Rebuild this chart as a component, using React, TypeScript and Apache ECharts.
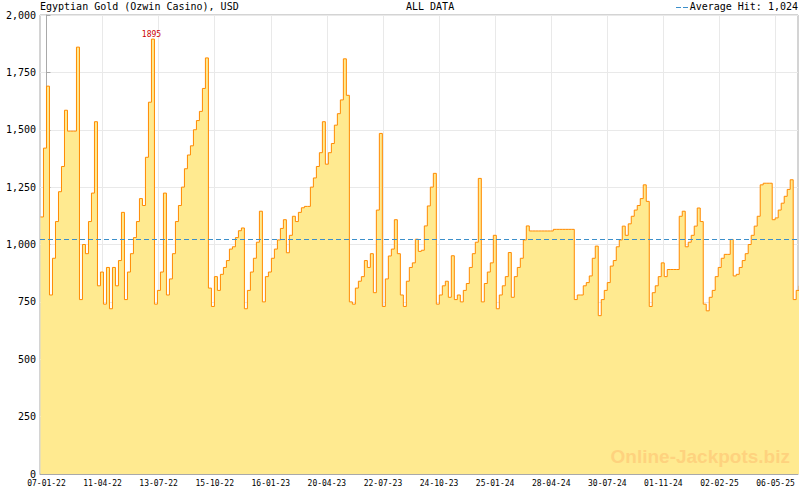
import React, { useEffect, useRef } from 'react';
import * as echarts from 'echarts';

const TITLE = 'Egyptian Gold (Ozwin Casino), USD';
const RANGE_LABEL = 'ALL DATA';
const WATERMARK = 'Online-Jackpots.biz';
const AVERAGE_HIT = 1024;

// x-axis tick labels (dd-mm-yy), one every TICK_DAYS days starting at day 0
const X_LABELS = [
  '07-01-22', '11-04-22', '13-07-22', '15-10-22', '16-01-23', '20-04-23', '22-07-23',
  '24-10-23', '25-01-24', '28-04-24', '30-07-24', '01-11-24', '02-02-25', '06-05-25',
];
const TICK_DAYS = 93.5;
const X_MIN = -10.8;
const X_MAX = 1253;

// y axis
const Y_MIN = 0;
const Y_MAX = 2000;
const Y_INTERVAL = 250;

// jackpot amount, sampled every STEP_DAYS days starting at START_DAY
const START_DAY = -10;
const STEP_DAYS = 5;
const VALUES = [
  1120, 1420, 1690, 780, 940, 1100, 1230, 1340, 1585, 1494,
  1494, 1494, 1860, 760, 1000, 960, 1100, 1224, 1535, 820,
  880, 740, 900, 720, 900, 820, 930, 1140, 760, 880,
  960, 1030, 1100, 1200, 1170, 1380, 1620, 1895, 740, 800,
  880, 1224, 780, 850, 960, 1100, 1170, 1250, 1330, 1390,
  1430, 1500, 1540, 1580, 1680, 1813, 810, 730, 860, 800,
  870, 900, 930, 980, 990, 1030, 1060, 1072, 720, 800,
  880, 940, 1010, 1145, 750, 860, 880, 940, 980, 1020,
  1070, 1108, 964, 1040, 1123, 1100, 1140, 1160, 1166, 1166,
  1250, 1290, 1340, 1400, 1535, 1350, 1400, 1440, 1520, 1570,
  1630, 1809, 1650, 750, 740, 810, 840, 860, 930, 900,
  960, 790, 1150, 1484, 730, 850, 950, 980, 1108, 960,
  780, 730, 840, 900, 920, 1023, 970, 975, 1081, 1168,
  1250, 1310, 740, 780, 820, 840, 770, 951, 760, 780,
  750, 800, 830, 900, 960, 1010, 1288, 750, 830, 880,
  920, 1040, 720, 780, 820, 860, 965, 770, 860, 900,
  940, 1020, 1081, 1059, 1059, 1059, 1059, 1059, 1059, 1059,
  1059, 1066, 1066, 1066, 1066, 1066, 1066, 1066, 760, 780,
  780, 820, 834, 863, 940, 993, 690, 760, 800, 834,
  906, 930, 990, 1020, 1080, 1040, 1090, 1123, 1150, 1170,
  1200, 1260, 1188, 730, 790, 820, 860, 920, 860, 891,
  891, 891, 891, 1123, 1145, 990, 1010, 1040, 1080, 1159,
  1100, 740, 711, 770, 800, 860, 900, 940, 957, 957,
  1022, 863, 870, 900, 930, 960, 1000, 1040, 1080, 1123,
  1260, 1267, 1267, 1267, 1108, 1116, 1150, 1180, 1210, 1240,
  1282, 760, 800, 820,
];

const MONO = '"DejaVu Sans Mono", monospace';

export default function App() {
  const ref = useRef<HTMLDivElement>(null);

  useEffect(() => {
    if (!ref.current) return;
    const chart = echarts.init(ref.current, undefined, { renderer: 'svg' });

    const majorTicks = X_LABELS.map((_, k) => k * TICK_DAYS);
    const minorTicks: number[] = [];
    for (let k = 0; k < X_LABELS.length; k++) {
      for (let j = 1; j < 7; j++) {
        const v = (k + j / 7) * TICK_DAYS;
        if (v <= X_MAX) minorTicks.push(v);
      }
    }

    const seriesData = VALUES.map((v, i) => [START_DAY + i * STEP_DAYS, v]);
    const gray = '#a9a9a9';
    const gridLine = '#e9e9e9';

    chart.setOption({
      animation: false,
      backgroundColor: '#ffffff',
      grid: {
        left: 40,
        right: 2,
        top: 15,
        bottom: 16,
        show: true,
        borderColor: gray,
        borderWidth: 1,
        backgroundColor: 'transparent',
      },
      xAxis: [
        {
          type: 'value',
          min: X_MIN,
          max: X_MAX,
          position: 'bottom',
          axisLine: { show: true, lineStyle: { color: gray, width: 1 } },
          axisTick: {
            show: true,
            inside: true,
            length: 5,
            customValues: majorTicks,
            lineStyle: { color: gray },
          },
          axisLabel: {
            show: true,
            customValues: majorTicks,
            formatter: (v: number) => X_LABELS[Math.round(v / TICK_DAYS)] ?? '',
            fontFamily: MONO,
            fontSize: 8,
            lineHeight: 8,
            color: '#000',
            margin: 5,
          },
          splitLine: { show: true, lineStyle: { color: gridLine, width: 1 } },
        },
        {
          type: 'value',
          min: X_MIN,
          max: X_MAX,
          position: 'bottom',
          axisLine: { show: false },
          axisTick: {
            show: true,
            inside: true,
            length: 3,
            customValues: minorTicks,
            lineStyle: { color: gray },
          },
          axisLabel: { show: false },
          splitLine: { show: false },
        },
      ],
      yAxis: {
        type: 'value',
        min: Y_MIN,
        max: Y_MAX,
        interval: Y_INTERVAL,
        axisLine: { show: true, lineStyle: { color: gray, width: 1 } },
        axisTick: { show: true, inside: true, length: 4, lineStyle: { color: gray } },
        axisLabel: {
          fontFamily: MONO,
          fontSize: 10,
          lineHeight: 8,
          color: '#000',
          margin: 4,
        },
        splitLine: { show: true, lineStyle: { color: gridLine, width: 1 } },
      },
      series: [
        {
          type: 'line',
          xAxisIndex: 0,
          data: seriesData,
          step: 'end',
          symbol: 'none',
          lineStyle: { color: '#ff8a00', width: 1 },
          areaStyle: { color: '#ffea90', opacity: 1 },
          markLine: {
            silent: true,
            symbol: 'none',
            label: { show: false },
            lineStyle: { color: '#3c8fca', type: [5, 3], width: 1 },
            data: [{ yAxis: AVERAGE_HIT }],
          },
          markPoint: {
            symbol: 'circle',
            symbolSize: 0,
            data: [{ type: 'max', valueDim: 'y' }],
            label: {
              show: true,
              position: 'top',
              distance: 1,
              formatter: (p: any) => String(p.value),
              fontFamily: MONO,
              fontSize: 8,
              color: '#cc0000',
            },
          },
        },
      ],
      graphic: [
        {
          type: 'text',
          left: 40,
          top: 1,
          style: { text: TITLE, font: `10px ${MONO}`, fill: '#000' },
        },
        {
          type: 'text',
          left: 406,
          top: 1,
          style: { text: RANGE_LABEL, font: `10px ${MONO}`, fill: '#000' },
        },
        {
          type: 'text',
          right: 2,
          top: 1,
          style: {
            text: 'Average Hit: ' + AVERAGE_HIT.toLocaleString('en-US'),
            font: `10px ${MONO}`,
            fill: '#000',
          },
        },
        {
          type: 'line',
          shape: { x1: 676, y1: 7.5, x2: 688, y2: 7.5 },
          style: { stroke: '#3c8fca', lineWidth: 1, lineDash: [5, 2] },
        },
        {
          type: 'text',
          right: 10,
          top: 447,
          z: 100,
          style: {
            text: WATERMARK,
            font: 'bold 19px "Liberation Sans", Arial, sans-serif',
            fill: '#fed27e',
          },
        },
      ],
    });

    return () => chart.dispose();
  }, []);

  return (
    <div
      ref={ref}
      style={{ position: 'fixed', left: 0, top: 0, width: 800, height: 490 }}
    />
  );
}
